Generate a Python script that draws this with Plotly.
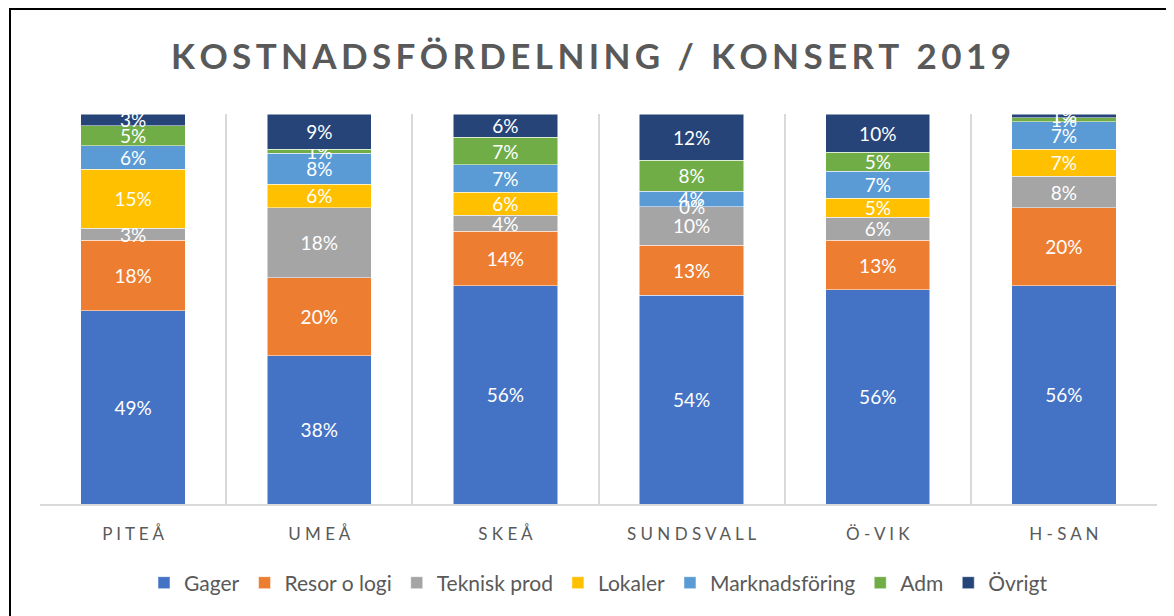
import plotly.graph_objects as go

# Data (percent of total cost per location)
orter = ["PITEÅ", "UMEÅ", "SKEÅ", "SUNDSVALL", "Ö-VIK", "H-SAN"]
gager = [49, 38, 56, 54, 56, 56]
resor = [18, 20, 14, 13, 13, 20]
teknisk = [3, 18, 4, 10, 6, 8]
lokaler = [15, 6, 6, 0, 5, 7]
marknad = [6, 8, 7, 4, 7, 7]
adm = [5, 1, 7, 8, 5, 1]
ovrigt = [3, 9, 6, 12, 10, 1]

serier = [
    ("Gager", gager, "#4472C4"),
    ("Resor o logi", resor, "#ED7D31"),
    ("Teknisk prod", teknisk, "#A5A5A5"),
    ("Lokaler", lokaler, "#FFC000"),
    ("Marknadsföring", marknad, "#5B9BD5"),
    ("Adm", adm, "#70AD47"),
    ("Övrigt", ovrigt, "#264478"),
]

titel = "KOSTNADSFÖRDELNING / KONSERT 2019"

font = "Lato, 'Open Sans', sans-serif"
grey = "#595959"

fig = go.Figure()
for namn, varden, farg in serier:
    fig.add_trace(go.Bar(
        x=orter, y=varden, name=namn,
        marker=dict(color=farg, line=dict(color="white", width=0.5)),
        text=[f"{v}%" for v in varden],
        textposition="inside", insidetextanchor="middle",
        textfont=dict(color="white", size=19, family=font),
        constraintext="none",
    ))

# zero-height segments get no text from plotly, so label them at their stack position
totals = [sum(s[1][i] for s in serier) for i in range(len(orter))]
for i, ort in enumerate(orter):
    cum = 0
    for namn, varden, farg in serier:
        if varden[i] == 0:
            fig.add_annotation(x=ort, y=cum / totals[i] * 100, text="0%", showarrow=False,
                               font=dict(color="white", size=19, family=font))
        cum += varden[i]

# spaced-out labels like in Excel
ticklabels = [" ".join(o) for o in orter]
titel_spaced = "\u2009".join(titel)

W, H = 1166, 608
fig.update_layout(
    barmode="stack", barnorm="percent", bargap=0.44,
    width=W, height=H,
    margin=dict(l=32, r=17, t=106, b=112),
    paper_bgcolor="white", plot_bgcolor="white",
    font=dict(family=font, color=grey),
    uniformtext=dict(minsize=19, mode="show"),
    title=dict(text=f"<b>{titel_spaced}</b>",
               x=0.5, xanchor="center", y=0.92, yanchor="middle",
               font=dict(size=35, color=grey, family=font)),
    legend=dict(orientation="h", x=0.5, xanchor="center", y=-0.15, yanchor="top",
                font=dict(size=21, color=grey), traceorder="normal"),
    shapes=[dict(type="rect", xref="paper", yref="paper",
                 x0=(2 - 32) / 1117, x1=(1200 - 32) / 1117,
                 y0=(496 - 640) / 390, y1=(496 - 1) / 390,
                 line=dict(color="black", width=2), layer="below")],
)
fig.update_xaxes(tickmode="array", tickvals=orter, ticktext=ticklabels,
                 tickson="boundaries", showgrid=True, gridcolor="#D9D9D9", gridwidth=1.5,
                 showline=True, linecolor="#D9D9D9", linewidth=1.5, ticks="",
                 ticklabelstandoff=14,
                 tickfont=dict(size=17, color=grey), mirror=False)
fig.update_yaxes(range=[0, 100], showgrid=False, showticklabels=False, zeroline=False)

fig.write_html("out.html")
